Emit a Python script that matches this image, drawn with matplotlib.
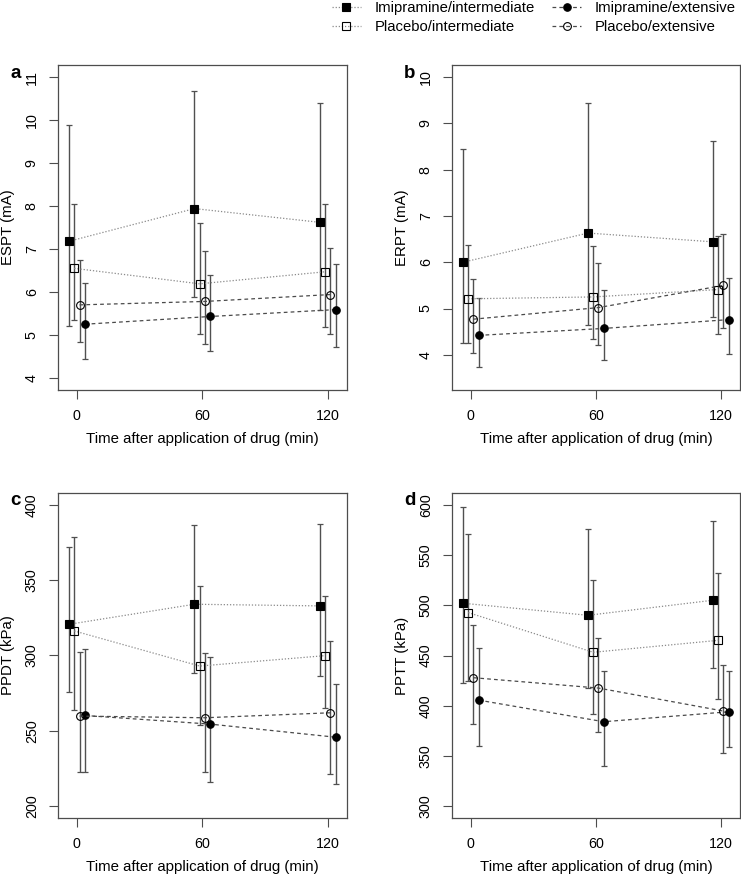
import matplotlib
matplotlib.use("Agg")
import matplotlib.pyplot as plt
import numpy as np

plt.rcParams['font.family'] = ['Liberation Sans', 'DejaVu Sans']

times = [0, 60, 120]
xtick_labels = ["0", "60", "120"]
series_names = ["Imipramine/intermediate", "Placebo/intermediate",
                "Imipramine/extensive", "Placebo/extensive"]

# Panel a: ESPT (mA)
a_imi_int_mean = [7.18, 7.94, 7.62]
a_imi_int_lo = [5.20, 5.89, 5.57]
a_imi_int_hi = [9.88, 10.68, 10.40]
a_pla_int_mean = [6.55, 6.19, 6.47]
a_pla_int_lo = [5.34, 5.02, 5.19]
a_pla_int_hi = [8.05, 7.61, 8.05]
a_imi_ext_mean = [5.25, 5.43, 5.59]
a_imi_ext_lo = [4.44, 4.62, 4.72]
a_imi_ext_hi = [6.22, 6.39, 6.64]
a_pla_ext_mean = [5.70, 5.78, 5.94]
a_pla_ext_lo = [4.84, 4.79, 5.02]
a_pla_ext_hi = [6.74, 6.95, 7.03]

# Panel b: ERPT (mA)
b_imi_int_mean = [6.00, 6.63, 6.44]
b_imi_int_lo = [4.25, 4.64, 4.81]
b_imi_int_hi = [8.45, 9.43, 8.62]
b_pla_int_mean = [5.21, 5.25, 5.41]
b_pla_int_lo = [4.25, 4.35, 4.45]
b_pla_int_hi = [6.37, 6.34, 6.57]
b_imi_ext_mean = [4.42, 4.57, 4.76]
b_imi_ext_lo = [3.74, 3.89, 4.01]
b_imi_ext_hi = [5.22, 5.40, 5.65]
b_pla_ext_mean = [4.77, 5.02, 5.50]
b_pla_ext_lo = [4.03, 4.21, 4.58]
b_pla_ext_hi = [5.64, 5.99, 6.60]

# Panel c: PPDT (kPa)
c_imi_int_mean = [320.7, 334.0, 332.9]
c_imi_int_lo = [275.7, 288.6, 286.2]
c_imi_int_hi = [372.3, 386.3, 387.2]
c_pla_int_mean = [316.3, 293.0, 299.9]
c_pla_int_lo = [263.8, 254.0, 265.0]
c_pla_int_hi = [378.5, 346.4, 339.5]
c_imi_ext_mean = [260.2, 254.5, 245.8]
c_imi_ext_lo = [222.8, 216.2, 214.6]
c_imi_ext_hi = [304.1, 299.2, 281.3]
c_pla_ext_mean = [259.8, 258.7, 262.0]
c_pla_ext_lo = [222.8, 222.4, 221.7]
c_pla_ext_hi = [302.5, 301.4, 309.6]

# Panel d: PPTT (kPa)
d_imi_int_mean = [502.0, 490.0, 505.0]
d_imi_int_lo = [422.6, 417.3, 437.5]
d_imi_int_hi = [597.3, 575.7, 583.7]
d_pla_int_mean = [492.7, 453.2, 465.1]
d_pla_int_lo = [425.0, 391.4, 406.3]
d_pla_int_hi = [571.1, 524.9, 532.2]
d_imi_ext_mean = [405.6, 384.1, 394.0]
d_imi_ext_lo = [359.8, 339.9, 358.5]
d_imi_ext_hi = [457.8, 434.6, 434.6]
d_pla_ext_mean = [427.9, 417.6, 394.7]
d_pla_ext_lo = [382.1, 373.4, 353.2]
d_pla_ext_hi = [480.1, 467.4, 440.9]

panels = [
    dict(letter="a", ylabel="ESPT (mA)", ylim=(4, 11), yticks=[4, 5, 6, 7, 8, 9, 10, 11],
         data=[(a_imi_int_mean, a_imi_int_lo, a_imi_int_hi),
               (a_pla_int_mean, a_pla_int_lo, a_pla_int_hi),
               (a_imi_ext_mean, a_imi_ext_lo, a_imi_ext_hi),
               (a_pla_ext_mean, a_pla_ext_lo, a_pla_ext_hi)]),
    dict(letter="b", ylabel="ERPT (mA)", ylim=(3.5, 10), yticks=[4, 5, 6, 7, 8, 9, 10],
         data=[(b_imi_int_mean, b_imi_int_lo, b_imi_int_hi),
               (b_pla_int_mean, b_pla_int_lo, b_pla_int_hi),
               (b_imi_ext_mean, b_imi_ext_lo, b_imi_ext_hi),
               (b_pla_ext_mean, b_pla_ext_lo, b_pla_ext_hi)]),
    dict(letter="c", ylabel="PPDT (kPa)", ylim=(200, 400), yticks=[200, 250, 300, 350, 400],
         data=[(c_imi_int_mean, c_imi_int_lo, c_imi_int_hi),
               (c_pla_int_mean, c_pla_int_lo, c_pla_int_hi),
               (c_imi_ext_mean, c_imi_ext_lo, c_imi_ext_hi),
               (c_pla_ext_mean, c_pla_ext_lo, c_pla_ext_hi)]),
    dict(letter="d", ylabel="PPTT (kPa)", ylim=(300, 600), yticks=[300, 350, 400, 450, 500, 550, 600],
         data=[(d_imi_int_mean, d_imi_int_lo, d_imi_int_hi),
               (d_pla_int_mean, d_pla_int_lo, d_pla_int_hi),
               (d_imi_ext_mean, d_imi_ext_lo, d_imi_ext_hi),
               (d_pla_ext_mean, d_pla_ext_lo, d_pla_ext_hi)]),
]

# style per series: offset, marker, fill, linestyle, line colour
styles = [
    dict(dx=-3.75, marker="s", ms=5.4, fc="black", ls=(0, (1, 1.5)), lc="#8a8a8a"),
    dict(dx=-1.25, marker="s", ms=6.0, fc="none", ls=(0, (1, 1.5)), lc="#8a8a8a"),
    dict(dx=3.75, marker="o", ms=5.4, fc="black", ls=(0, (3, 2.5)), lc="#4a4a4a"),
    dict(dx=1.25, marker="o", ms=5.6, fc="none", ls=(0, (3, 2.5)), lc="#4a4a4a"),
]

W, H = 741, 875
fig = plt.figure(figsize=(W / 100, H / 100), dpi=100)

boxes = [(58.3, 65, 288.4, 325), (452.3, 65, 287.5, 325),
         (58.3, 492.7, 288.4, 325.6), (452.3, 492.7, 287.5, 325.6)]

edge = "#4d4d4d"
legend_handles = []
for p, (lx, ty, w, h) in zip(panels, boxes):
    ax = fig.add_axes([lx / W, 1 - (ty + h) / H, w / W, h / H])
    y0, y1 = p["ylim"]
    ext = 0.04 * (y1 - y0)
    ax.set_ylim(y0 - ext, y1 + ext)
    ax.set_xlim(-8.9, 129.1)
    for (mean, lo, hi), st, name in zip(p["data"], styles, series_names):
        x = np.array(times) + st["dx"]
        mean = np.array(mean)
        yerr = np.vstack([mean - np.array(lo), np.array(hi) - mean])
        ax.errorbar(x, mean, yerr=yerr, fmt="none", ecolor="#505050",
                    elinewidth=1.0, capsize=2.2, capthick=0.9, zorder=2)
        ln, = ax.plot(x, mean, linestyle=st["ls"], color=st["lc"], linewidth=0.9,
                      marker=st["marker"], markersize=st["ms"],
                      markerfacecolor=st["fc"], markeredgecolor="black",
                      markeredgewidth=0.8, zorder=3, label=name)
        if p["letter"] == "a":
            legend_handles.append(ln)
    ax.set_xticks(times)
    ax.set_xticklabels(xtick_labels)
    ax.set_yticks(p["yticks"])
    ax.set_yticklabels([str(v) for v in p["yticks"]])
    for s in ax.spines.values():
        s.set_color(edge)
        s.set_linewidth(0.9)
    ax.tick_params(axis="both", direction="out", length=6.5, width=0.8,
                   color=edge, labelsize=10.3, labelcolor="black")
    ax.tick_params(axis="x", pad=7)
    ax.tick_params(axis="y", pad=7.5)
    for lab in ax.get_yticklabels():
        lab.set_rotation(90)
        lab.set_va("center")
    ax.set_xlabel("Time after application of drug (min)", fontsize=10.8)
    ax.set_ylabel(p["ylabel"], fontsize=10.8)
    ax.xaxis.set_label_coords(0.5, -49.0 / h)
    ax.xaxis.label.set_va("center")
    ax.yaxis.set_label_coords(-50.6 / w, 0.5)
    ax.yaxis.label.set_va("center")
    ax.text(-48.0 / w, 1 - 8.0 / h, p["letter"], transform=ax.transAxes,
            fontsize=13.5, fontweight="bold", ha="left", va="center")

fig.legend(legend_handles, series_names,
           ncol=2, loc="upper left", bbox_to_anchor=(332 / W, 1 - 1.0 / H),
           frameon=False, fontsize=10.7, handlelength=1.95, handletextpad=0.9,
           columnspacing=1.2, labelspacing=0.36, borderpad=0, borderaxespad=0,
           numpoints=1)

fig.savefig("out.png", dpi=100)
